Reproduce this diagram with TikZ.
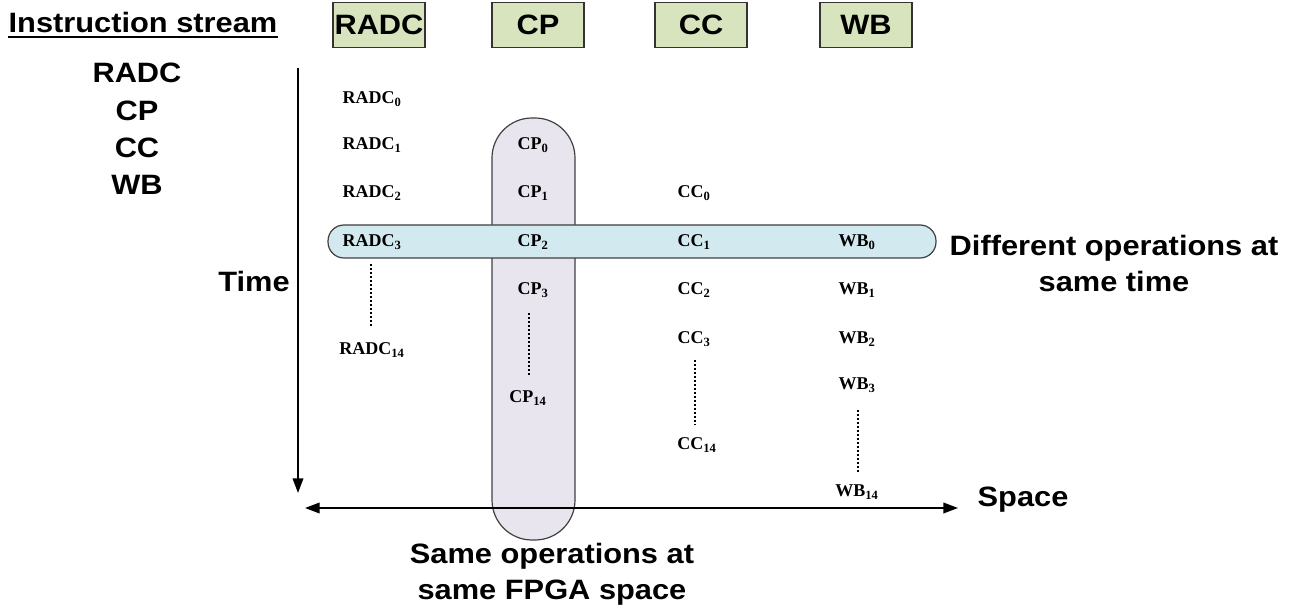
\documentclass[tikz,border=0pt]{standalone}
\usepackage{fontspec}
\setmainfont{Liberation Serif}
\setsansfont{Liberation Sans}
\newfontfamily\bigfont{Liberation Sans}[FakeStretch=1.1]
\usetikzlibrary{arrows.meta}
\definecolor{boxgreen}{HTML}{D7E4BD}
\definecolor{barblue}{HTML}{D2E9F0}
\definecolor{barlav}{HTML}{E8E5EF}
\tikzset{
  big/.style={font=\bigfont\bfseries\fontsize{21}{27}\selectfont, inner sep=0pt},
  hdrbox/.style={draw=black!80, line width=1.2pt, fill=boxgreen, minimum width=69pt, minimum height=34pt, inner sep=0pt, font=\bigfont\bfseries\fontsize{21}{24}\selectfont},
  op/.style={font=\bfseries\fontsize{13.5}{15}\selectfont, inner sep=1pt},
  dots/.style={line width=1.3pt, dash pattern=on 1.5pt off 1.5pt},
  axis/.style={line width=1.2pt},
  tip/.style={-{Triangle[length=11pt,width=8pt]}},
}
\begin{document}
\begin{tikzpicture}[x=0.75pt,y=-0.75pt]
\useasboundingbox (0,0) rectangle (1296,609);
% vertical bar
\draw[fill=barlav, draw=black!75, line width=0.9pt, rounded corners=30pt] (492,118) rectangle (575,540);
% horizontal bar
\draw[fill=barblue, draw=black!75, line width=0.9pt, rounded corners=12pt] (328,225) rectangle (936,258);

% headers
\node[big] (title) at (143,22) {Instruction stream};
\draw[line width=1.5pt] ([yshift=-3.5pt]title.south west) -- ([yshift=-3.5pt]title.south east);
\node[hdrbox] (hR) at (379,25) {RADC};
\node[hdrbox] (hP) at (538,25) {CP};
\node[hdrbox] (hC) at (701,25) {CC};
\node[hdrbox] (hW) at (866,25) {WB};

\node[big] (lR) at (137,73) {RADC};
\node[big] (lP) at (137,111) {CP};
\node[big] (lC) at (137,148) {CC};
\node[big] (lW) at (137,185) {WB};

\node[big] (time) at (254,281) {Time};
\node[big] (space) at (1023,500) {Space};
\node[big, align=center] (diff) at (1114,263) {Different operations at\\same time};
\node[big, align=center] (same) at (552,574) {Same operations at\\same FPGA space};

% axes
\coordinate (ttop) at (298,68);
\coordinate (tbot) at (298,493);
\draw[axis, tip] (ttop) -- (tbot);
\coordinate (sl) at (305,508);
\coordinate (sr) at (958,508);
\draw[axis, {Triangle[length=11pt,width=8pt]}-{Triangle[length=11pt,width=8pt]}] (sl) -- (sr);

% RADC column
\node[op] (r0) at (372,99) {RADC\textsubscript{0}};
\node[op] (r1) at (372,145) {RADC\textsubscript{1}};
\node[op] (r2) at (372,193) {RADC\textsubscript{2}};
\node[op] (r3) at (372,242) {RADC\textsubscript{3}};
\node[op] (r14) at (372,350) {RADC\textsubscript{14}};
\draw[dots] (371,264) -- (371,326);

% CP column
\node[op] (p0) at (533,145) {CP\textsubscript{0}};
\node[op] (p1) at (533,193) {CP\textsubscript{1}};
\node[op] (p2) at (533,242) {CP\textsubscript{2}};
\node[op] (p3) at (533,290) {CP\textsubscript{3}};
\node[op] (p14) at (528,398) {CP\textsubscript{14}};
\draw[dots] (529,313) -- (529,375);

% CC column
\node[op] (c0) at (694,193) {CC\textsubscript{0}};
\node[op] (c1) at (694,242) {CC\textsubscript{1}};
\node[op] (c2) at (694,290) {CC\textsubscript{2}};
\node[op] (c3) at (694,339) {CC\textsubscript{3}};
\node[op] (c14) at (697,445) {CC\textsubscript{14}};
\draw[dots] (695,360) -- (695,425);

% WB column
\node[op] (w0) at (857,242) {WB\textsubscript{0}};
\node[op] (w1) at (857,290) {WB\textsubscript{1}};
\node[op] (w2) at (857,339) {WB\textsubscript{2}};
\node[op] (w3) at (857,385) {WB\textsubscript{3}};
\node[op] (w14) at (857,492) {WB\textsubscript{14}};
\draw[dots] (858,410) -- (858,472);
\end{tikzpicture}
\end{document}
